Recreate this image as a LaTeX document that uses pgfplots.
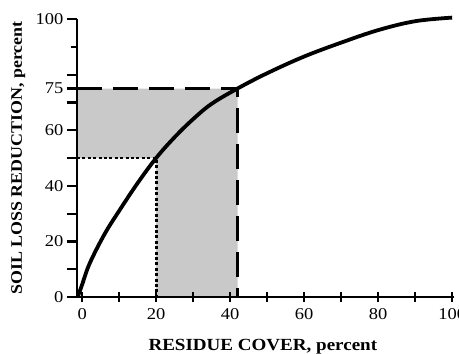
\documentclass[border=0pt]{standalone}
\usepackage{fontspec}
\setmainfont{Liberation Serif}[FakeStretch=1.12]
\usepackage{pgfplots}
\pgfplotsset{compat=1.18}
\begin{document}
\begin{tikzpicture}
\begin{axis}[
  scale only axis, width=377pt, height=278pt,
  xmin=-1.4, xmax=100.5, ymin=0, ymax=100,
  axis lines=left,
  axis line style={line width=2.4pt, -},
  axis on top,
  xtick={0,20,...,100}, minor xtick={10,30,...,90},
  ytick={0,20,40,60,75,100}, minor ytick={10,30,50,70,80,90},
  xtick align=center, ytick align=outside,
  major tick length=10pt, minor tick length=10pt,
  every tick/.style={line width=2.2pt, black},
  every minor y tick/.append style={shorten <=4pt},
  tick label style={font=\fontsize{16.5}{16.5}\selectfont},
  xticklabel style={yshift=-3pt},
  /pgf/number format/assume math mode=true,
  xlabel={\fontsize{17}{17}\selectfont\bfseries RESIDUE COVER, percent},
  ylabel={\fontsize{16}{16}\selectfont\bfseries SOIL LOSS REDUCTION, percent},
  xlabel style={at={(axis description cs:0.493,-0.18)}, anchor=center},
  ylabel style={at={(axis description cs:-0.156,0.5)}, anchor=center},
  clip=false,
]
% shaded L-shaped region
\addplot[fill=black!21, draw=none] coordinates {(-1.4,50) (-1.4,75) (42,75) (42,0) (20,0) (20,50)} -- cycle;
% dotted lines at 20% cover / 50% reduction
\addplot[line width=2.8pt, dash pattern=on 3pt off 2.4pt] coordinates {(-1.4,50) (20,50) (20,0)};
% dashed lines at 42% cover / 75% reduction
\addplot[line width=3.8pt, dash pattern=on 25pt off 11pt] coordinates {(-1.4,75) (42,75) (42,0)};
% curve
\addplot[line width=3.8pt, smooth, tension=0.6] coordinates {
  (-1.2,0) (0,4.5) (2,12) (6,22.5) (10,31) (15,41) (20,50) (25,57.5) (30,64) (35,69.5) (42,75)
  (50,80.5) (60,86.5) (70,91.5) (80,96) (90,99.2) (100,100.5)};
\end{axis}
\pgfresetboundingbox
\path[use as bounding box] (-77pt,-57pt) rectangle (382pt,297pt);
\end{tikzpicture}
\end{document}
